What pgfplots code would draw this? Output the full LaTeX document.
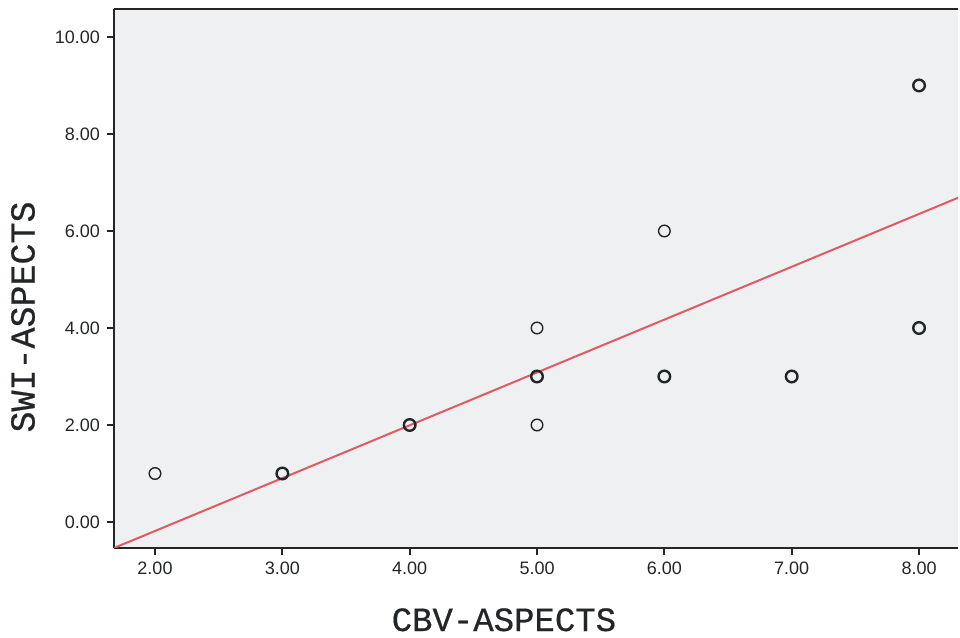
\documentclass[border=0pt]{standalone}
\usepackage{pgfplots}
\pgfplotsset{compat=1.18}
\usepackage{fontspec}
\setmainfont{Liberation Sans}
\newfontfamily\labfont[FakeBold=0.6]{Liberation Mono}
\definecolor{plotbg}{RGB}{238,240,241}
\definecolor{fitred}{RGB}{224,90,100}
\definecolor{axisdark}{RGB}{35,38,40}

\begin{document}
\begin{tikzpicture}
\begin{axis}[
    at={(0,0)}, anchor=south west,
    scale only axis,
    width=422bp, height=269.5bp,
    xmin=1.678, xmax=8.306,
    ymin=-0.536, ymax=10.577,
    axis background/.style={fill=plotbg},
    axis x line=box, axis y line=left,
    axis line style={axisdark, line width=1bp, -},
    xtick={2,3,4,5,6,7,8},
    ytick={0,2,4,6,8,10},
    tick align=outside,
    major tick length=3.5bp,
    tick style={axisdark, line width=1bp},
    xtick pos=lower, ytick pos=left,
    xticklabel={\pgfmathprintnumber[fixed,fixed zerofill,precision=2]{\tick}},
    yticklabel={\pgfmathprintnumber[fixed,fixed zerofill,precision=2]{\tick}},
    /pgf/number format/assume math mode=true,
    ticklabel style={font=\fontsize{9bp}{10bp}\selectfont, text=axisdark},
    xlabel={CBV-ASPECTS},
    ylabel={SWI-ASPECTS},
    xlabel style={at={(axis description cs:0.462,-0.154)}, anchor=base,
        font=\labfont\fontsize{17bp}{18bp}\selectfont, text=axisdark},
    ylabel style={at={(axis description cs:-0.1078,0.4286)}, anchor=center, rotate=0,
        font=\labfont\fontsize{17.5bp}{18bp}\selectfont, text=axisdark},
    clip=true,
]
\addplot[fitred, line width=1bp] coordinates {(1.678,-0.536) (8.32,6.70)};
\addplot[only marks, mark=o, mark size=2.9bp, mark options={axisdark, line width=0.7bp}]
    coordinates {(2,1) (5,4) (5,2) (6,6)};
\addplot[only marks, mark=o, mark size=2.9bp, mark options={axisdark, line width=1.2bp}]
    coordinates {(3,1) (4,2) (5,3) (6,3) (7,3) (8,9) (8,4)};
\end{axis}
\path[use as bounding box] (-57bp,-44.5bp) rectangle (423bp,274bp);
\end{tikzpicture}
\end{document}
